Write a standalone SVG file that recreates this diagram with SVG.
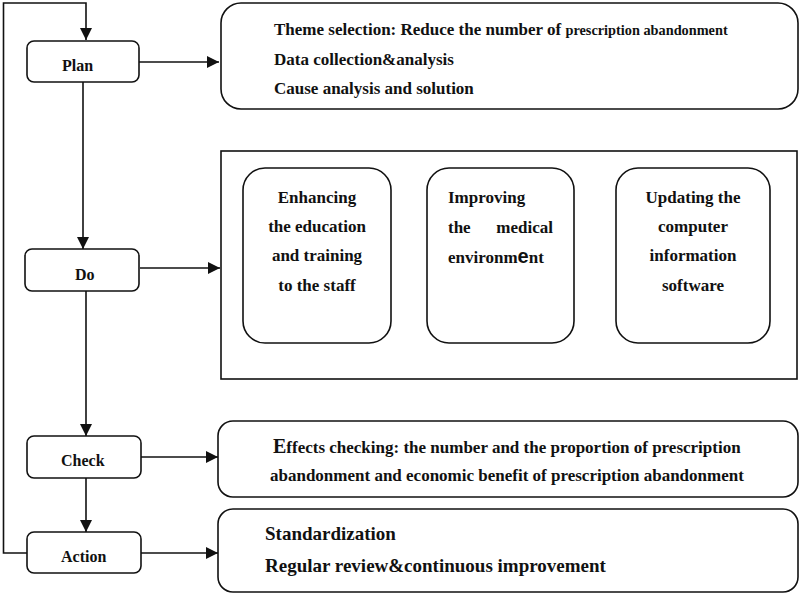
<svg xmlns="http://www.w3.org/2000/svg" width="800" height="595" viewBox="0 0 800 595">
<style>
.box{fill:#fff;stroke:#111;stroke-width:1.6}
.ln{fill:none;stroke:#111;stroke-width:1.6}
.t{font-family:"Liberation Serif","Times New Roman",serif;font-weight:bold;fill:#111}
.n{font-size:16px}
.d{font-size:17px}
.c{text-anchor:middle}
</style>
<defs>
<marker id="ah" markerUnits="userSpaceOnUse" markerWidth="12" markerHeight="12" refX="12" refY="6" orient="auto">
<path d="M0,0 L12,6 L0,12 z" fill="#111"/>
</marker>
</defs>
<rect width="800" height="595" fill="#fff"/>
<g id="connectors">
<path class="ln" d="M27,553 H3.5 V3 H86 V40" marker-end="url(#ah)"/>
<path class="ln" d="M83,82 V249" marker-end="url(#ah)"/>
<path class="ln" d="M86,291 V436" marker-end="url(#ah)"/>
<path class="ln" d="M86,478 V532" marker-end="url(#ah)"/>
<path class="ln" d="M139,62 H219" marker-end="url(#ah)"/>
<path class="ln" d="M140,268 H220" marker-end="url(#ah)"/>
<path class="ln" d="M141,457 H218" marker-end="url(#ah)"/>
<path class="ln" d="M141,553 H218" marker-end="url(#ah)"/>
</g>
<g id="plan">
<rect class="box" x="27" y="41" width="112" height="41" rx="7"/>
<text class="t n" x="62" y="71">Plan</text>
</g>
<g id="do">
<rect class="box" x="25" y="249" width="114" height="42" rx="7"/>
<text class="t n" x="75" y="280">Do</text>
</g>
<g id="check">
<rect class="box" x="27" y="436" width="114" height="42" rx="7"/>
<text class="t n" x="61" y="466">Check</text>
</g>
<g id="action">
<rect class="box" x="27" y="532" width="114" height="41" rx="7"/>
<text class="t n" x="61" y="562">Action</text>
</g>
<g id="plan-detail">
<rect class="box" x="221" y="3" width="577" height="106" rx="20"/>
<text class="t d" x="274" y="35">Theme selection: Reduce the number of <tspan style="font-size:14.3px">prescription abandonment</tspan></text>
<text class="t d" x="274" y="65">Data collection&amp;analysis</text>
<text class="t d" x="274" y="94">Cause analysis and solution</text>
</g>
<g id="do-detail">
<rect class="box" x="221" y="151" width="576" height="228" rx="0"/>
</g>
<g id="do-education">
<rect class="box" x="243" y="168" width="148" height="175" rx="22"/>
<text class="t d c" x="317" y="203">Enhancing</text>
<text class="t d c" x="317" y="232">the education</text>
<text class="t d c" x="317" y="261">and training</text>
<text class="t d c" x="317" y="291">to the staff</text>
</g>
<g id="do-environment">
<rect class="box" x="427" y="168" width="147" height="175" rx="22"/>
<text class="t d" x="448" y="203">Improving</text>
<text class="t d" x="448" y="233">the</text>
<text class="t d" x="553" y="233" text-anchor="end">medical</text>
<text class="t d" x="448" y="263">environm<tspan style="font-family:'Liberation Sans',Arial,sans-serif;font-size:20px;font-weight:bold">e</tspan>nt</text>
</g>
<g id="do-software">
<rect class="box" x="616" y="168" width="154" height="175" rx="22"/>
<text class="t d c" x="693" y="203">Updating the</text>
<text class="t d c" x="693" y="232">computer</text>
<text class="t d c" x="693" y="261">information</text>
<text class="t d c" x="693" y="291">software</text>
</g>
<g id="check-detail">
<rect class="box" x="218" y="421" width="580" height="76" rx="15"/>
<text class="t d" x="273" y="453"><tspan style="font-size:20px">E</tspan>ffects checking: the number and the proportion of prescription</text>
<text class="t d" x="270" y="481">abandonment and economic benefit of prescription abandonment</text>
</g>
<g id="action-detail">
<rect class="box" x="218" y="509" width="580" height="83" rx="15"/>
<text class="t" style="font-size:19px" x="265" y="540">Standardization</text>
<text class="t" style="font-size:19px" x="265" y="572">Regular review&amp;continuous improvement</text>
</g>
</svg>
